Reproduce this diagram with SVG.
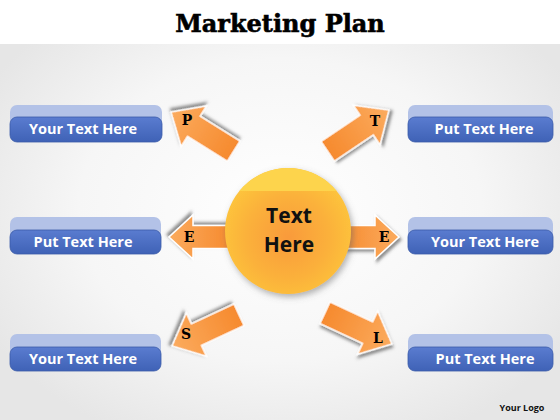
<svg xmlns="http://www.w3.org/2000/svg" width="560" height="420" viewBox="0 0 560 420">
<defs>
<radialGradient id="bg" cx="50%" cy="50%" r="60%">
<stop offset="0" stop-color="#ffffff"/>
<stop offset="0.6" stop-color="#f6f6f6"/>
<stop offset="1" stop-color="#e6e6e6"/>
</radialGradient>
<linearGradient id="boxg" x1="0" y1="0" x2="0" y2="1">
<stop offset="0" stop-color="#5a7cd0"/>
<stop offset="1" stop-color="#3f62b6"/>
</linearGradient>
<linearGradient id="arrg" x1="0" y1="0" x2="1" y2="0">
<stop offset="0" stop-color="#f68a2e"/>
<stop offset="1" stop-color="#fbab5e"/>
</linearGradient>
<radialGradient id="circg" cx="50%" cy="55%" r="55%">
<stop offset="0" stop-color="#f99a3a"/>
<stop offset="0.6" stop-color="#fbb13a"/>
<stop offset="1" stop-color="#fdc53c"/>
</radialGradient>
<clipPath id="circclip"><circle cx="288" cy="231" r="63"/></clipPath>
<filter id="sh" x="-30%" y="-30%" width="160%" height="160%">
<feDropShadow dx="2" dy="2.5" stdDeviation="1.5" flood-color="#444" flood-opacity="0.6"/>
</filter>
<filter id="csh" x="-20%" y="-20%" width="140%" height="140%">
<feDropShadow dx="2" dy="3" stdDeviation="3" flood-color="#666" flood-opacity="0.5"/>
</filter>
<polygon id="arr" points="0,0 -27,-24 -27,-12 -74,-12 -74,12 -27,12 -27,24"/>
<polygon id="harrL" points="0,0 -24,-22 -24,-11.5 -62,-11.5 -62,11.5 -24,11.5 -24,22"/>
</defs>
<style>
.title{font-family:"DejaVu Serif","Liberation Serif",serif;font-weight:bold;font-size:24px;fill:#000}
.light{fill:#b3c2e7}
.dark{fill:url(#boxg);stroke:#3a5aa8;stroke-width:0.8}
.btxt{font-family:"Open Sans","Liberation Sans",sans-serif;font-weight:bold;font-size:14.5px;fill:#fff;text-anchor:middle}
.arrow{fill:url(#arrg);stroke:#fff;stroke-width:1.5;filter:url(#sh)}
.let{font-family:"DejaVu Serif","Liberation Serif",serif;font-weight:bold;font-size:14px;fill:#000;text-anchor:middle}
.ctxt{font-family:"Open Sans","Liberation Sans",sans-serif;font-weight:bold;font-size:21px;fill:#111;text-anchor:middle}
.logo{font-family:"Open Sans","Liberation Sans",sans-serif;font-weight:bold;font-size:9px;fill:#111;text-anchor:middle}
</style>
<rect x="0" y="0" width="560" height="420" fill="url(#bg)"/>
<rect x="0" y="0" width="560" height="44" fill="#ffffff"/>
<text class="title" x="280" y="32" text-anchor="middle" stroke="#000" stroke-width="0.6">Marketing Plan</text>

<g id="connectors">
<use href="#arr" class="arrow" transform="translate(171,112) rotate(212)"/>
<use href="#arr" class="arrow" transform="translate(389,110) rotate(-34)"/>
<use href="#arr" class="arrow" transform="translate(172,346) rotate(155)"/>
<use href="#arr" class="arrow" transform="translate(392,344) rotate(25)"/>
<use href="#harrL" class="arrow" transform="translate(169,237) rotate(180)"/>
<use href="#harrL" class="arrow" transform="translate(399,237)"/>
<text class="let" x="187" y="125">P</text>
<text class="let" x="375" y="126">T</text>
<text class="let" x="186" y="339">S</text>
<text class="let" x="378" y="343">L</text>
<text class="let" x="189" y="242">E</text>
<text class="let" x="384" y="242">E</text>
</g>

<g id="center">
<circle cx="288" cy="231" r="63" fill="url(#circg)" filter="url(#csh)"/>
<rect x="220" y="160" width="140" height="31" fill="#fdd44c" clip-path="url(#circclip)"/>
<text class="ctxt" x="289" y="223">Text</text>
<text class="ctxt" x="289" y="252">Here</text>
</g>

<g id="box-tl">
<rect class="light" x="10" y="105" width="152" height="28" rx="7"/>
<rect class="dark" x="10" y="117" width="152" height="25" rx="7"/>
<text class="btxt" x="83" y="134">Your Text Here</text>
</g>
<g id="box-tr">
<rect class="light" x="408" y="105" width="145" height="28" rx="7"/>
<rect class="dark" x="408" y="117" width="145" height="25" rx="7"/>
<text class="btxt" x="484" y="134">Put Text Here</text>
</g>
<g id="box-ml">
<rect class="light" x="10" y="217" width="151" height="28" rx="7"/>
<rect class="dark" x="10" y="230" width="151" height="24" rx="7"/>
<text class="btxt" x="83" y="247">Put Text Here</text>
</g>
<g id="box-mr">
<rect class="light" x="408" y="217" width="145" height="28" rx="7"/>
<rect class="dark" x="408" y="230" width="145" height="24" rx="7"/>
<text class="btxt" x="485" y="247">Your Text Here</text>
</g>
<g id="box-bl">
<rect class="light" x="10" y="334" width="151" height="28" rx="7"/>
<rect class="dark" x="10" y="347" width="151" height="24" rx="7"/>
<text class="btxt" x="83" y="364">Your Text Here</text>
</g>
<g id="box-br">
<rect class="light" x="408" y="334" width="145" height="28" rx="7"/>
<rect class="dark" x="408" y="347" width="145" height="24" rx="7"/>
<text class="btxt" x="485" y="364">Put Text Here</text>
</g>
<text class="logo" x="522" y="411">Your Logo</text>
</svg>
